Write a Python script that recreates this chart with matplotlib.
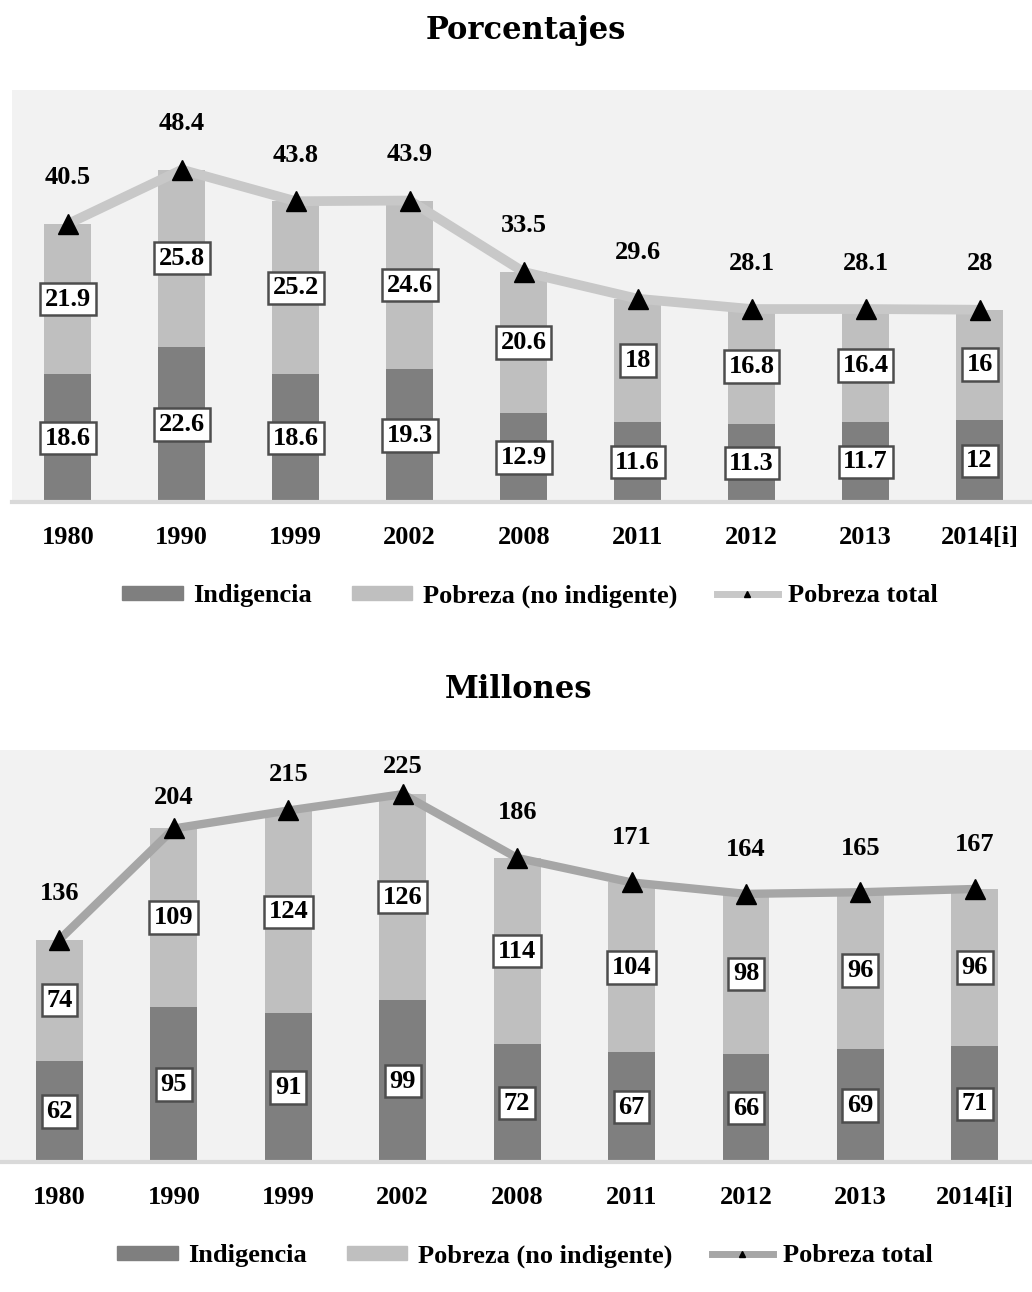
import matplotlib
matplotlib.use("Agg")
import matplotlib.pyplot as plt
from matplotlib.patches import Patch
from matplotlib.lines import Line2D

plt.rcParams['font.family'] = ['Liberation Serif', 'DejaVu Serif']
plt.rcParams['font.weight'] = 'bold'

years = ["1980", "1990", "1999", "2002", "2008", "2011", "2012", "2013", "2014[i]"]

pct_indigencia = [18.6, 22.6, 18.6, 19.3, 12.9, 11.6, 11.3, 11.7, 12]
pct_pobreza_no_ind = [21.9, 25.8, 25.2, 24.6, 20.6, 18, 16.8, 16.4, 16]
pct_total = [40.5, 48.4, 43.8, 43.9, 33.5, 29.6, 28.1, 28.1, 28]

mil_indigencia = [62, 95, 91, 99, 72, 67, 66, 69, 71]
mil_pobreza_no_ind = [74, 109, 124, 126, 114, 104, 98, 96, 96]
mil_total = [136, 204, 215, 225, 186, 171, 164, 165, 167]

pct_labels_ind = ["18.6", "22.6", "18.6", "19.3", "12.9", "11.6", "11.3", "11.7", "12"]
pct_labels_pob = ["21.9", "25.8", "25.2", "24.6", "20.6", "18", "16.8", "16.4", "16"]
pct_labels_tot = ["40.5", "48.4", "43.8", "43.9", "33.5", "29.6", "28.1", "28.1", "28"]

# style
C_IND = "#7f7f7f"
C_POB = "#bfbfbf"
BG = "#f2f2f2"
W, H = 1032, 1292
FS = 19

fig = plt.figure(figsize=(W / 100, H / 100), dpi=100)
fig.patch.set_facecolor("white")


def px_axes(left, top, right, bottom):
    return fig.add_axes([left / W, 1 - bottom / H, (right - left) / W, (bottom - top) / H])


def draw_panel(ax, ind, pob, tot, lab_ind, lab_pob, lab_tot, ymax, line_color, line_w, tot_offsets, xlim):
    x = list(range(len(years)))
    ax.set_facecolor(BG)
    ax.bar(x, ind, width=0.41, color=C_IND, zorder=2)
    ax.bar(x, pob, width=0.41, bottom=ind, color=C_POB, zorder=2)
    ax.plot(x, tot, color=line_color, lw=line_w, zorder=3, solid_capstyle='butt')
    ax.plot(x, tot, ls='none', marker='^', ms=14, color='black', zorder=4)
    box = dict(boxstyle='square,pad=0.18', fc='white', ec='#4d4d4d', lw=1.8)
    for i in x:
        ax.text(i, ind[i] / 2, lab_ind[i], ha='center', va='center', fontsize=FS,
                fontweight='bold', bbox=box, zorder=5)
        ax.text(i, ind[i] + pob[i] / 2, lab_pob[i], ha='center', va='center', fontsize=FS,
                fontweight='bold', bbox=box, zorder=5)
        ax.annotate(lab_tot[i], (i, tot[i]), xytext=(0, tot_offsets[i] * 0.72),
                    textcoords='offset points', ha='center', va='center', fontsize=FS,
                    fontweight='bold', zorder=5)
    ax.set_ylim(0, ymax)
    ax.set_xlim(*xlim)
    ax.set_yticks([])
    ax.set_xticks(x)
    ax.set_xticklabels(years, fontsize=FS, fontweight='bold')
    ax.tick_params(axis='x', length=0, pad=17)
    for s in ['top', 'right', 'left']:
        ax.spines[s].set_visible(False)
    ax.spines['bottom'].set_color('#d9d9d9')
    ax.spines['bottom'].set_linewidth(3)


# top panel
ax1 = px_axes(12, 90, 1032, 502)
draw_panel(ax1, pct_indigencia, pct_pobreza_no_ind, pct_total,
           pct_labels_ind, pct_labels_pob, pct_labels_tot,
           60, "#c8c8c8", 7, [46] * 9, (-0.49, 8.46))
fig.text(526 / W, 1 - 30 / H, "Porcentajes", ha='center', va='center', fontsize=22,
         fontweight='bold', family='DejaVu Serif')

# bottom panel
ax2 = px_axes(0, 750, 1032, 1162)
mil_lab = [str(v) for v in mil_indigencia]
mil_lab_p = [str(v) for v in mil_pobreza_no_ind]
mil_lab_t = [str(v) for v in mil_total]
draw_panel(ax2, mil_indigencia, mil_pobreza_no_ind, mil_total,
           mil_lab, mil_lab_p, mil_lab_t,
           252, "#a6a6a6", 6, [46, 31, 36, 28, 45, 45, 44, 44, 44], (-0.52, 8.5))
fig.text(518 / W, 1 - 690 / H, "Millones", ha='center', va='center', fontsize=22,
         fontweight='bold', family='DejaVu Serif')


def make_legend(ycenter, line_color, xcenter):
    handles = [Patch(color=C_IND), Patch(color=C_POB),
               Line2D([0], [0], color=line_color, lw=5, marker='^', ms=5, mfc='black', mec='black')]
    labels = ["Indigencia", "Pobreza (no indigente)", "Pobreza total"]
    fig.legend(handles, labels, loc='center', bbox_to_anchor=(xcenter / W, 1 - ycenter / H),
               ncol=3, frameon=False, prop=dict(size=19, weight='bold'),
               handlelength=2.3, handleheight=0.4, columnspacing=1.5, handletextpad=0.4)


make_legend(596, "#c8c8c8", 530)
make_legend(1256, "#a6a6a6", 525)

fig.savefig("out.png", dpi=100)
